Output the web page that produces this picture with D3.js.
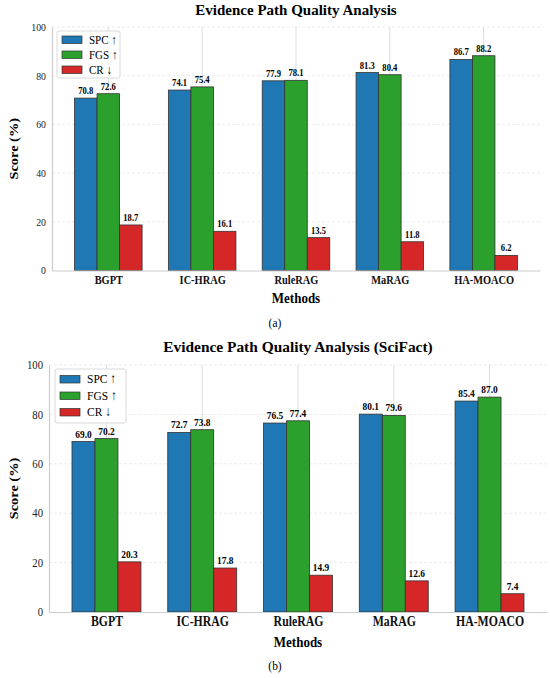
<!DOCTYPE html>
<html>
<head>
<meta charset="utf-8">
<script src="https://cdn.jsdelivr.net/npm/d3@7"></script>
<style>
  body { margin: 0; background: #fff; }
  svg { display: block; font-family: "Liberation Serif", "DejaVu Serif", serif; }
</style>
</head>
<body>
<svg id="chart" width="550" height="678"></svg>
<script>
const methods = ["BGPT", "IC-HRAG", "RuleRAG", "MaRAG", "HA-MOACO"]
const seriesNames = ["SPC \u2191", "FGS \u2191", "CR \u2193"]
const seriesColors = ["#1f77b4", "#2ca02c", "#d62728"]
const yTicks = [0, 20, 40, 60, 80, 100]

// panel (a)
const spcA = [70.8, 74.1, 77.9, 81.3, 86.7]
const fgsA = [72.6, 75.4, 78.1, 80.4, 88.2]
const crA = [18.7, 16.1, 13.5, 11.8, 6.2]

// panel (b) SciFact
const spcB = [69.0, 72.7, 76.5, 80.1, 85.4]
const fgsB = [70.2, 73.8, 77.4, 79.6, 87.0]
const crB = [20.3, 17.8, 14.9, 12.6, 7.4]

const svg = d3.select("#chart")
const STRETCH = 1.15  // picture text is a bit taller than wide

function drawPanel(opt) {
    const g = svg.append("g")
    const scaleX = d3.scaleLinear().domain([-0.6, 4.6]).range([opt.left, opt.right])
    const scaleY = d3.scaleLinear().domain([0, 100]).range([opt.bottom, opt.top])
    const barW = (scaleX(1) - scaleX(0)) * 0.24

    // horizontal grid
    g.selectAll(".hgrid")
        .data(yTicks.filter(t => t > 0))
        .enter()
        .append("line")
        .attr("x1", opt.left).attr("x2", opt.right)
        .attr("y1", d => scaleY(d)).attr("y2", d => scaleY(d))
        .attr("stroke", "#e6e6e6")
        .attr("stroke-width", 0.8)
        .attr("stroke-dasharray", "3,2")

    // vertical grid at category ticks
    g.selectAll(".vgrid")
        .data(methods)
        .enter()
        .append("line")
        .attr("x1", (d, i) => scaleX(i)).attr("x2", (d, i) => scaleX(i))
        .attr("y1", opt.top).attr("y2", opt.bottom)
        .attr("stroke", "#d9d9d9")
        .attr("stroke-width", 0.9)

    const series = [opt.spc, opt.fgs, opt.cr]
    series.forEach((vals, s) => {
        const offset = (s - 1) * barW
        g.selectAll(".bar" + s)
            .data(vals)
            .enter()
            .append("rect")
            .attr("x", (d, i) => scaleX(i) + offset - barW / 2)
            .attr("y", d => scaleY(d))
            .attr("width", barW)
            .attr("height", d => scaleY(0) - scaleY(d))
            .attr("fill", seriesColors[s])
            .attr("stroke", "#333")
            .attr("stroke-width", 0.8)

        g.selectAll(".lab" + s)
            .data(vals)
            .enter()
            .append("text")
            .attr("transform", (d, i) => `translate(${scaleX(i) + offset},${scaleY(d) - 4}) scale(1,${STRETCH})`)
            .attr("text-anchor", "middle")
            .attr("font-size", opt.valSize)
            .attr("font-weight", "bold")
            .text(d => d.toFixed(1))
    })

    // axes (left, bottom spines)
    const yAxis = d3.axisLeft(scaleY).tickValues(yTicks).tickSize(0).tickPadding(6)
    const ya = g.append("g").attr("transform", `translate(${opt.left},0)`).call(yAxis)
    ya.select(".domain").attr("stroke", "#cccccc").attr("stroke-width", 1.2)
    ya.selectAll("text")
        .attr("font-size", opt.tickSize).attr("font-family", "Liberation Serif").attr("fill", "#222")
        .attr("dy", "0.3em")
        .attr("transform", `scale(1,${STRETCH})`)

    const xAxis = d3.axisBottom(scaleX).tickValues(d3.range(methods.length))
        .tickFormat(i => methods[i]).tickSize(0).tickPadding(4)
    const xa = g.append("g").attr("transform", `translate(0,${opt.bottom})`).call(xAxis)
    xa.select(".domain").attr("stroke", "#cccccc").attr("stroke-width", 1.2)
    xa.selectAll("text").attr("font-size", opt.catSize).attr("font-weight", "bold")
        .attr("font-family", "Liberation Serif").attr("fill", "#111")
        .attr("transform", `scale(1,${STRETCH})`)

    // title & axis labels
    g.append("text")
        .attr("x", (opt.left + opt.right) / 2)
        .attr("y", opt.titleY)
        .attr("text-anchor", "middle")
        .attr("font-size", opt.titleSize)
        .attr("font-weight", "bold")
        .text(opt.title)

    g.append("text")
        .attr("transform", `translate(${(opt.left + opt.right) / 2},${opt.methodsY}) scale(1,${STRETCH})`)
        .attr("text-anchor", "middle")
        .attr("font-size", 13)
        .attr("font-weight", "bold")
        .text("Methods")

    g.append("text")
        .attr("transform", `translate(18,${(opt.top + opt.bottom) / 2}) rotate(-90) scale(${STRETCH},1)`)
        .attr("text-anchor", "middle")
        .attr("font-size", 12.5)
        .attr("font-weight", "bold")
        .text("Score (%)")

    g.append("text")
        .attr("transform", `translate(275,${opt.capY}) scale(1,${STRETCH})`)
        .attr("text-anchor", "middle")
        .attr("font-size", 11.5)
        .text(opt.caption)

    // legend
    const lg = g.append("g").attr("transform", `translate(${opt.legX},${opt.legY})`)
    lg.append("rect")
        .attr("width", opt.legW).attr("height", opt.legH)
        .attr("rx", 2)
        .attr("fill", "#fff").attr("fill-opacity", 0.85)
        .attr("stroke", "#d0d0d0").attr("stroke-width", 0.8)
    seriesNames.forEach((name, s) => {
        const yy = opt.legFirst + s * opt.legStep
        lg.append("rect")
            .attr("x", 5).attr("y", yy - 3.5)
            .attr("width", 20).attr("height", 7.5)
            .attr("fill", seriesColors[s])
            .attr("stroke", "#333").attr("stroke-width", 0.7)
        lg.append("text")
            .attr("transform", `translate(32,${yy + 4}) scale(1,${STRETCH})`)
            .attr("font-size", opt.legSize)
            .text(name)
    })
}

drawPanel({
    left: 52, right: 540, top: 27, bottom: 270.5,
    spc: spcA, fgs: fgsA, cr: crA,
    title: "Evidence Path Quality Analysis", titleY: 15, titleSize: 15,
    methodsY: 303, capY: 327, caption: "(a)",
    tickSize: 9.8, catSize: 10.4, valSize: 8.6,
    legX: 57, legY: 31, legW: 63, legH: 47, legFirst: 8.5, legStep: 15, legSize: 11
})

drawPanel({
    left: 49, right: 547, top: 365, bottom: 612,
    spc: spcB, fgs: fgsB, cr: crB,
    title: "Evidence Path Quality Analysis (SciFact)", titleY: 352, titleSize: 15.4,
    methodsY: 647, capY: 670, caption: "(b)",
    tickSize: 10.7, catSize: 11.8, valSize: 9.4,
    legX: 55, legY: 369, legW: 71, legH: 54, legFirst: 10, legStep: 16.5, legSize: 11.5
})
</script>
</body>
</html>
